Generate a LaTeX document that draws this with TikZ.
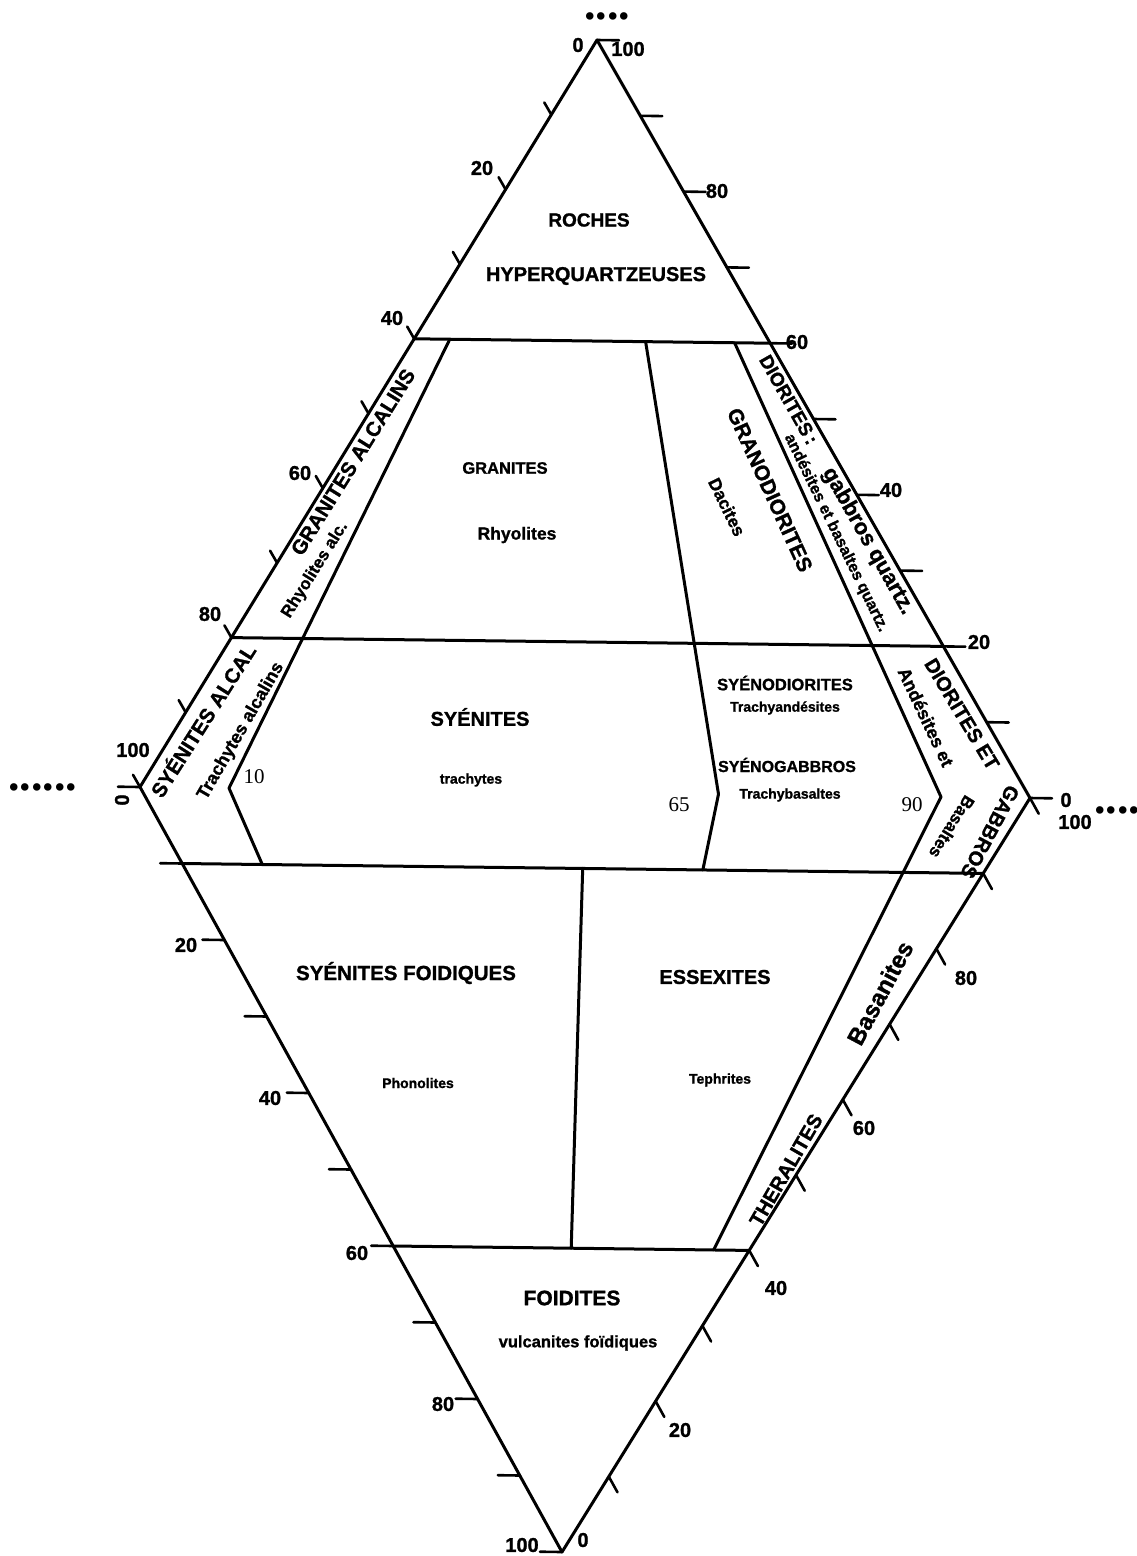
\documentclass[tikz,border=0pt]{standalone}
\usepackage{fontspec}
\setmainfont{Liberation Sans}[BoldFeatures={FakeBold=1.2}]
\newfontfamily\serifnum{Liberation Serif}
\usetikzlibrary{calc}
\newcommand{\fsz}[1]{\fontsize{#1}{#1}\selectfont\bfseries}
\tikzset{
  edge/.style={line width=3pt, line join=round, line cap=round},
  tk/.style={line width=2.6pt, line cap=round},
  lbl/.style={inner sep=0pt},
  num/.style={font=\fsz{20}, inner sep=0pt},
  ser/.style={font=\serifnum\fontsize{21}{21}\selectfont, inner sep=0pt},
  dotz/.style={font=\serifnum\fontsize{46}{46}\selectfont\bfseries, inner sep=0pt, text height=6pt, text depth=0pt},
}
\begin{document}
\begin{tikzpicture}[x=1pt,y=-1pt]
\useasboundingbox[fill=white] (0,0) rectangle (1136,1556);
% vertices
\coordinate (Q) at (597,40);
\coordinate (A) at (140,787);
\coordinate (P) at (1030,798);
\coordinate (F) at (562,1552);
% base points
\coordinate (B10) at ($(A)!0.10!(P)$);
\coordinate (B50) at ($(A)!0.50!(P)$);
\coordinate (B65) at ($(A)!0.65!(P)$);
\coordinate (B90) at ($(A)!0.90!(P)$);
% horizontal lines
\coordinate (Q60L) at ($(A)!0.6!(Q)$);
\coordinate (Q60R) at ($(P)!0.6!(Q)$);
\coordinate (Q20L) at ($(A)!0.2!(Q)$);
\coordinate (Q20R) at ($(P)!0.2!(Q)$);
\coordinate (F10L) at ($(A)!0.1!(F)$);
\coordinate (F10R) at ($(P)!0.1!(F)$);
\coordinate (F60L) at ($(A)!0.6!(F)$);
\coordinate (F60R) at ($(P)!0.6!(F)$);
% field boundaries
\coordinate (U10) at ($(B10)!0.6!(Q)$);
\coordinate (U65) at ($(B65)!0.6!(Q)$);
\coordinate (U90) at ($(B90)!0.6!(Q)$);
\coordinate (L10) at ($(B10)!0.1!(F)$);
\coordinate (L50) at ($(B50)!0.1!(F)$);
\coordinate (L65) at ($(B65)!0.1!(F)$);
\coordinate (M50) at ($(B50)!0.6!(F)$);
\coordinate (M90) at ($(B90)!0.6!(F)$);

\draw[edge] (Q) -- (A) -- (F) -- (P) -- cycle;
\draw[edge] (Q60L) -- (Q60R);
\draw[edge] (Q20L) -- (Q20R);
\draw[edge] (F10L) -- (F10R);
\draw[edge] (F60L) -- (F60R);
\draw[edge] (U10) -- (B10) -- (L10);
\draw[edge] (U65) -- (B65) -- (L65);
\draw[edge] (U90) -- (B90) -- (M90);
\draw[edge] (L50) -- (M50);

% ticks
\foreach \k in {1,...,10} \draw[tk] ($(Q)!\k/10!(A)$) -- ++(-7,-12.2);
\foreach \k in {0,...,10} \draw[tk] ($(Q)!\k/10!(P)$) -- ++(22,0.3);
\foreach \k in {0,...,10} \draw[tk] ($(A)!\k/10!(F)$) -- ++(-22,-0.3);
\foreach \k in {0,...,9} \draw[tk] ($(P)!\k/10!(F)$) -- ++(8.7,15.7);

% edge numbers
\node[num] (ul0) at (578,45) {0};
\node[num] (ul20) at (482,168) {20};
\node[num] (ul40) at (392,318) {40};
\node[num] (ul60) at (300,473) {60};
\node[num] (ul80) at (210,614) {80};
\node[num] (ul100) at (133,750) {100};
\node[num] (ur100) at (628,49) {100};
\node[num] (ur80) at (717,191) {80};
\node[num] (ur60) at (797,342) {60};
\node[num] (ur40) at (891,490) {40};
\node[num] (ur20) at (979,642) {20};
\node[num] (ur0) at (1066,800) {0};
\node[num] (lr100) at (1075,822) {100};
\node[num] (lr80) at (966,978) {80};
\node[num] (lr60) at (864,1128) {60};
\node[num] (lr40) at (776,1288) {40};
\node[num] (lr20) at (680,1430) {20};
\node[num] (lr0) at (583,1540) {0};
\node[num, rotate=90] (ll0) at (122,800) {0};
\node[num] (ll20) at (186,945) {20};
\node[num] (ll40) at (270,1098) {40};
\node[num] (ll60) at (357,1253) {60};
\node[num] (ll80) at (443,1404) {80};
\node[num] (ll100) at (522,1545) {100};

% serif boundary values
\node[ser] (s10) at (254,777) {10};
\node[ser] (s65) at (679,805) {65};
\node[ser] (s90) at (912,805) {90};

% dots
\node[dotz, anchor=base] (d1) at (607,19) {....};
\node[dotz, anchor=base west] (d2) at (8,790) {......};
\node[dotz, anchor=base west] (d3) at (1094,813) {....};

% field names
\node[lbl, font=\fsz{19}] (t1) at (589,220) {ROCHES};
\node[lbl, font=\fsz{20}] (t2) at (596,276) {HYPERQUARTZEUSES};
\node[lbl, font=\fsz{16.5}] (t3) at (505,468) {GRANITES};
\node[lbl, font=\fsz{17.5}] (t4) at (517,535) {Rhyolites};
\node[lbl, font=\fsz{20.5}, rotate=58] (t5) at (353,462) {GRANITES ALCALINS};
\node[lbl, font=\fsz{17}, rotate=58] (t6) at (315,570) {Rhyolites alc.};
\node[lbl, font=\fsz{21}, rotate=-65.5] (t7) at (770,490) {GRANODIORITES};
\node[lbl, font=\fsz{17.5}, rotate=-64] (t8) at (727,507) {Dacites};
\node[lbl, font=\fsz{19}, rotate=-60.5] (t9) at (836,485) {DIORITES\,:\hspace{30pt}{\fontsize{22}{22}\selectfont gabbros quartz.}};
\node[lbl, font=\fsz{16}, rotate=-64] (t10) at (836,533) {andésites et basaltes quartz.};
\node[lbl, font=\fsz{20.5}, rotate=57.5] (t11) at (202,720) {SYÉNITES ALCAL};
\node[lbl, font=\fsz{18}, rotate=60] (t12) at (241,731) {Trachytes alcalins};
\node[lbl, font=\fsz{20}] (t13) at (480,717) {SYÉNITES};
\node[lbl, font=\fsz{14}] (t14) at (471,780) {trachytes};
\node[lbl, font=\fsz{16.5}] (t15) at (785,683) {SYÉNODIORITES};
\node[lbl, font=\fsz{14}] (t16) at (785,708) {Trachyandésites};
\node[lbl, font=\fsz{16}] (t17) at (787,765) {SYÉNOGABBROS};
\node[lbl, font=\fsz{14}] (t18) at (790,795) {Trachybasaltes};
\node[lbl, font=\fsz{20}, rotate=-59] (t19) at (962,714) {DIORITES ET};
\node[lbl, font=\fsz{20}, rotate=-118] (t20) at (990,832) {GABBROS};
\node[lbl, font=\fsz{18}, rotate=-64.8] (t21) at (926,717) {Andésites et};
\node[lbl, font=\fsz{17}, rotate=-122] (t22) at (952,827) {Basaltes};
\node[lbl, font=\fsz{20.5}] (t23) at (406,973) {SYÉNITES FOIDIQUES};
\node[lbl, font=\fsz{14}] (t24) at (418,1083) {Phonolites};
\node[lbl, font=\fsz{20}] (t25) at (715,977) {ESSEXITES};
\node[lbl, font=\fsz{14}] (t26) at (720,1080) {Tephrites};
\node[lbl, font=\fsz{20}, rotate=60] (t27) at (786,1170) {THERALITES};
\node[lbl, font=\fsz{24}, rotate=62] (t28) at (880,993) {Basanites};
\node[lbl, font=\fsz{21}] (t29) at (572,1298) {FOIDITES};
\node[lbl, font=\fsz{16.5}] (t30) at (578,1343) {vulcanites foïdiques};
\end{tikzpicture}
\end{document}
